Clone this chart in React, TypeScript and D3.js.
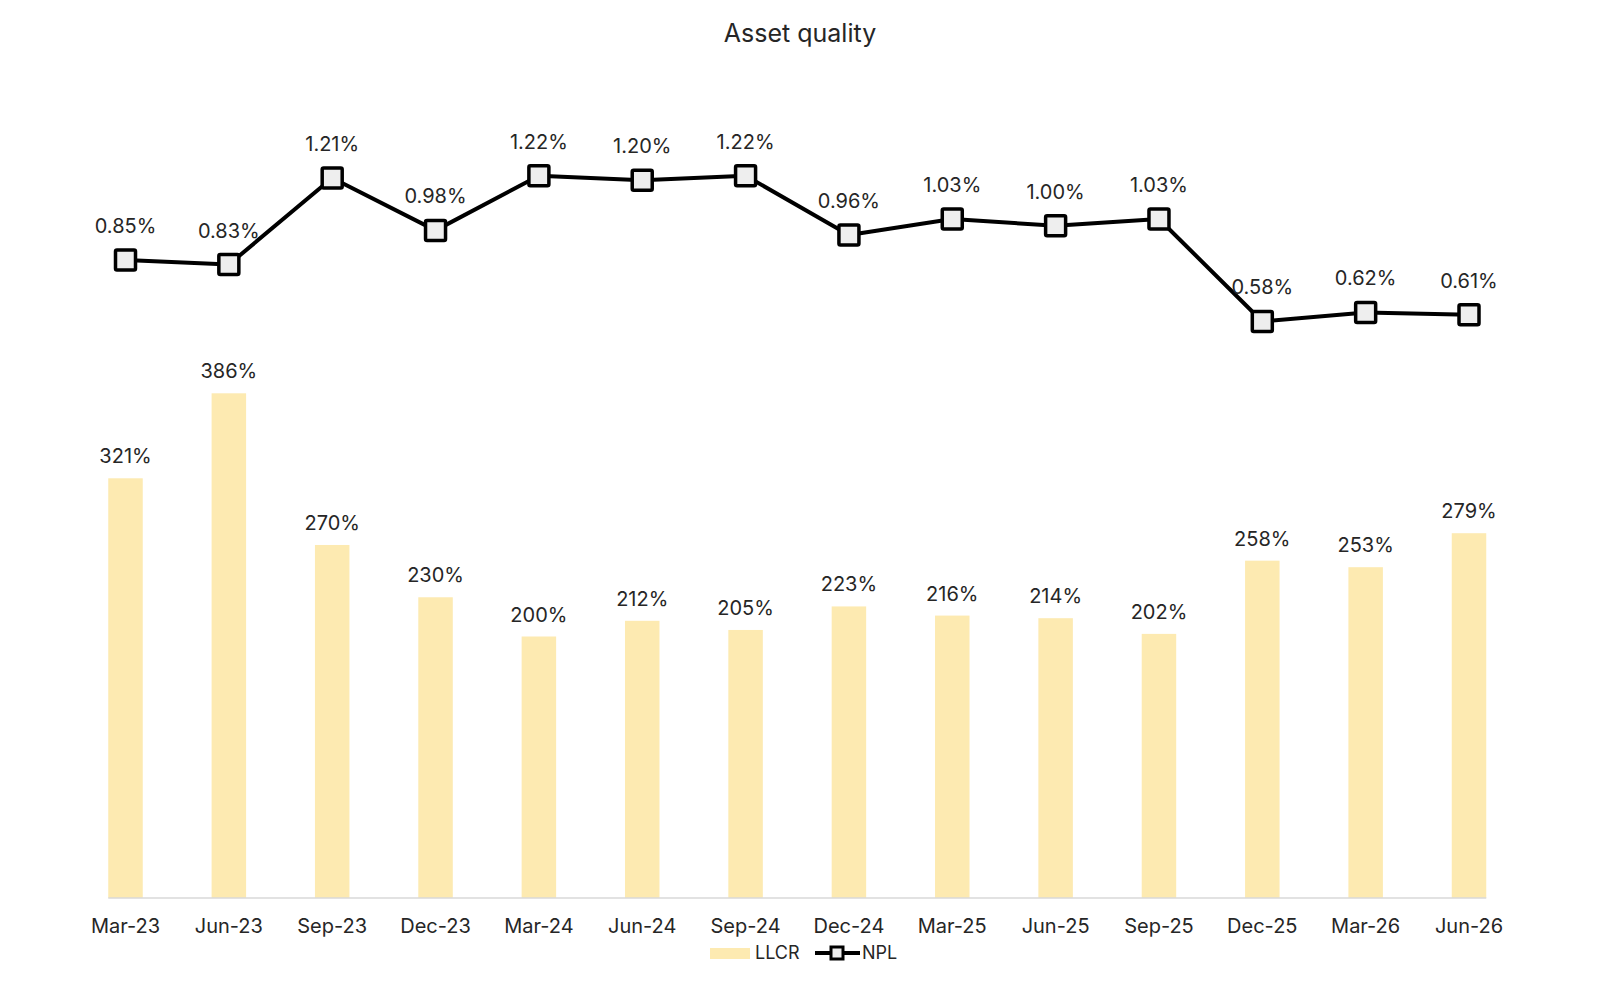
import React from 'react';
import * as d3 from 'd3';

const quarters = [
  'Mar-23', 'Jun-23', 'Sep-23', 'Dec-23', 'Mar-24', 'Jun-24', 'Sep-24',
  'Dec-24', 'Mar-25', 'Jun-25', 'Sep-25', 'Dec-25', 'Mar-26', 'Jun-26'
];
const llcr = [321, 386, 270, 230, 200, 212, 205, 223, 216, 214, 202, 258, 253, 279];
const npl = [0.85, 0.83, 1.21, 0.98, 1.22, 1.2, 1.22, 0.96, 1.03, 1.0, 1.03, 0.58, 0.62, 0.61];

const width = 1600;
const height = 986;
const font = 'Inter, "Noto Sans", sans-serif';
const textColor = '#262626';
const barColor = '#FDEAB1';

export default function App() {
  const x = d3.scalePoint<string>().domain(quarters).range([125.5, 1469]);
  const barWidth = 34.5;

  // bars sit on the baseline at y = 898
  const yBar = d3.scaleLinear().domain([0, 400]).range([898, 375]);
  // NPL line lives in the upper band
  const yLine = d3.scaleLinear().domain([0.4, 1.4]).range([362.5, 134.7]);

  const line = d3
    .line<number>()
    .x((_, i) => x(quarters[i]) as number)
    .y(d => yLine(d));

  const axisY = yBar(0);
  const first = x(quarters[0]) as number;
  const last = x(quarters[quarters.length - 1]) as number;

  return (
    <svg
      width={width}
      height={height}
      style={{ position: 'absolute', left: 0, top: 0, background: '#fff' }}
      fontFamily={font}
    >
      <text x={800} y={42} textAnchor="middle" fontSize={25} fill={textColor}>
        Asset quality
      </text>

      <g>
        {llcr.map((v, i) => (
          <rect
            key={quarters[i]}
            x={(x(quarters[i]) as number) - barWidth / 2}
            y={yBar(v)}
            width={barWidth}
            height={axisY - yBar(v)}
            fill={barColor}
          />
        ))}
        {llcr.map((v, i) => (
          <text
            key={`l${quarters[i]}`}
            x={x(quarters[i]) as number}
            y={yBar(v) - 15}
            textAnchor="middle"
            fontSize={20}
            fill={textColor}
          >
            {`${v}%`}
          </text>
        ))}
      </g>

      <line
        x1={first - barWidth / 2}
        x2={last + barWidth / 2}
        y1={axisY}
        y2={axisY}
        stroke="#d9d9d9"
        strokeWidth={1.5}
      />
      {quarters.map(q => (
        <text key={`t${q}`} x={x(q) as number} y={933} textAnchor="middle" fontSize={20} fill={textColor}>
          {q}
        </text>
      ))}

      <path d={line(npl) ?? ''} fill="none" stroke="#000" strokeWidth={4} strokeLinejoin="round" />
      {npl.map((v, i) => (
        <rect
          key={`m${quarters[i]}`}
          x={(x(quarters[i]) as number) - 10}
          y={yLine(v) - 10}
          width={20}
          height={20}
          fill="#eeeeee"
          stroke="#000"
          strokeWidth={3.5}
          rx={1.5}
        />
      ))}
      {npl.map((v, i) => (
        <text
          key={`n${quarters[i]}`}
          x={x(quarters[i]) as number}
          y={yLine(v) - 27}
          textAnchor="middle"
          fontSize={20}
          fill={textColor}
        >
          {`${v.toFixed(2)}%`}
        </text>
      ))}

      <g>
        <rect x={710} y={948} width={40} height={11} fill={barColor} />
        <text x={755} y={959} fontSize={18} fill={textColor}>LLCR</text>
        <line x1={815} x2={860} y1={953} y2={953} stroke="#000" strokeWidth={4} />
        <rect x={831} y={947} width={12} height={12} fill="#eeeeee" stroke="#000" strokeWidth={3} />
        <text x={862} y={959} fontSize={18} fill={textColor}>NPL</text>
      </g>
    </svg>
  );
}
